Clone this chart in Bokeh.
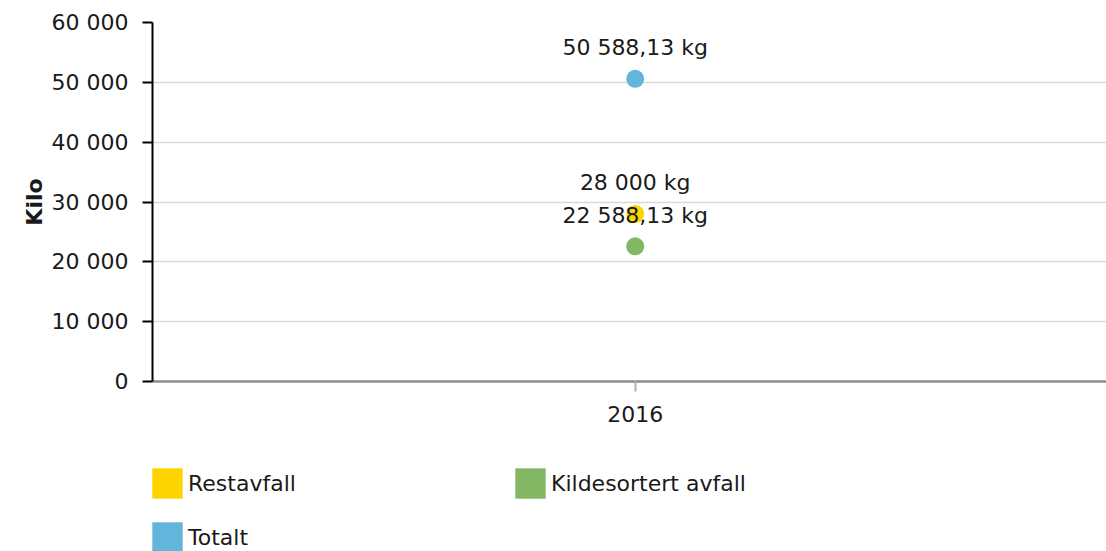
from bokeh.plotting import figure
from bokeh.layouts import column
from bokeh.models import (ColumnDataSource, LabelSet, Legend, LegendItem, Range1d,
                          FixedTicker, CustomJSTickFormatter)
from bokeh.core.properties import value
from bokeh.embed import file_html
from bokeh.resources import INLINE

years = [2016]
series = ["Restavfall", "Kildesortert avfall", "Totalt"]
values = [28000.0, 22588.13, 50588.13]
colors = ["#fdd400", "#82b863", "#64b5dc"]
y_ticks = [0, 10000, 20000, 30000, 40000, 50000, 60000]
y_title = "Kilo"


def fmt(v):
    s = f"{v:,.2f}".replace(",", " ").replace(".", ",")
    if s.endswith(",00"):
        s = s[:-3]
    return s + " kg"


FONT = "DejaVu Sans"
TXT = "#1a1a1a"

p = figure(width=1106, height=440, output_backend="svg", toolbar_location=None,
           x_range=Range1d(2015.494, 2016.494), y_range=Range1d(0, 60000),
           min_border_left=152, min_border_right=0, min_border_top=22,
           min_border_bottom=59)
p.outline_line_color = None
p.xgrid.visible = False

yticker = FixedTicker(ticks=y_ticks)
p.yaxis.ticker = yticker
p.ygrid.ticker = yticker
p.ygrid.grid_line_color = "#d9d9d9"
p.ygrid.grid_line_width = 1.5
p.yaxis.formatter = CustomJSTickFormatter(
    code="return Math.round(tick).toString().replace(/\\B(?=(\\d{3})+(?!\\d))/g, ' ');")
p.yaxis.axis_label = y_title
p.yaxis.axis_label_text_font = FONT
p.yaxis.axis_label_text_font_style = "bold"
p.yaxis.axis_label_text_font_size = "22px"
p.yaxis.axis_label_text_color = TXT
p.yaxis.axis_label_standoff = 2
p.yaxis.axis_line_color = "black"
p.yaxis.axis_line_width = 2
p.yaxis.major_tick_line_color = "black"
p.yaxis.major_tick_line_width = 2
p.yaxis.major_tick_in = 0
p.yaxis.major_tick_out = 10
p.yaxis.minor_tick_line_color = None
p.yaxis.major_label_standoff = 14
p.yaxis.major_label_text_font = FONT
p.yaxis.major_label_text_font_size = "22px"
p.yaxis.major_label_text_color = TXT

p.xaxis.ticker = FixedTicker(ticks=years)
p.xaxis.axis_line_color = "#8c8c8c"
p.xaxis.axis_line_width = 2.5
p.xaxis.major_tick_line_color = "#b0b0b0"
p.xaxis.major_tick_line_width = 2
p.xaxis.major_tick_in = 0
p.xaxis.major_tick_out = 10
p.xaxis.minor_tick_line_color = None
p.xaxis.major_label_standoff = 14
p.xaxis.major_label_text_font = FONT
p.xaxis.major_label_text_font_size = "22px"
p.xaxis.major_label_text_color = TXT

src = ColumnDataSource(dict(
    x=[years[0]] * len(values), y=values, color=colors,
    label=[fmt(v) for v in values]))
p.scatter("x", "y", source=src, size=18, fill_color="color", line_color=None)

labels = LabelSet(x="x", y="y", text="label", source=src, y_offset=31,
                  text_align="center", text_baseline="middle",
                  text_font=value(FONT), text_font_size="22px", text_color=TXT)
p.add_layout(labels)

# legend strip below the chart (its frame is aligned with the chart's frame)
lg = figure(width=1106, height=111, output_backend="svg", toolbar_location=None,
            x_axis_location=None, y_axis_location=None,
            x_range=Range1d(0, 1), y_range=Range1d(0, 1),
            min_border_left=0, min_border_right=0, min_border_top=0,
            min_border_bottom=0)
lg.outline_line_color = None
lg.xgrid.visible = False
lg.ygrid.visible = False

items = []
for s, c, v in zip(series, colors, values):
    # zero-size, off-range quad: only used to give the legend its swatch
    r = lg.quad(left=[years[0]], right=[years[0]], bottom=[v], top=[v],
                fill_color=c, line_color=None)
    items.append(LegendItem(label=s, renderers=[r]))

legend = Legend(items=items, orientation="horizontal", ncols=2,
                location=(-4, -5.25), glyph_width=38, glyph_height=38,
                spacing=16, label_standoff=2, label_width=307,
                label_text_font=FONT, label_text_font_size="22px",
                label_text_color=TXT, padding=0, margin=0,
                border_line_color=None, background_fill_alpha=0)
lg.add_layout(legend)

layout = column(p, lg, spacing=0)
open("out.html", "w").write(file_html(layout, INLINE))
